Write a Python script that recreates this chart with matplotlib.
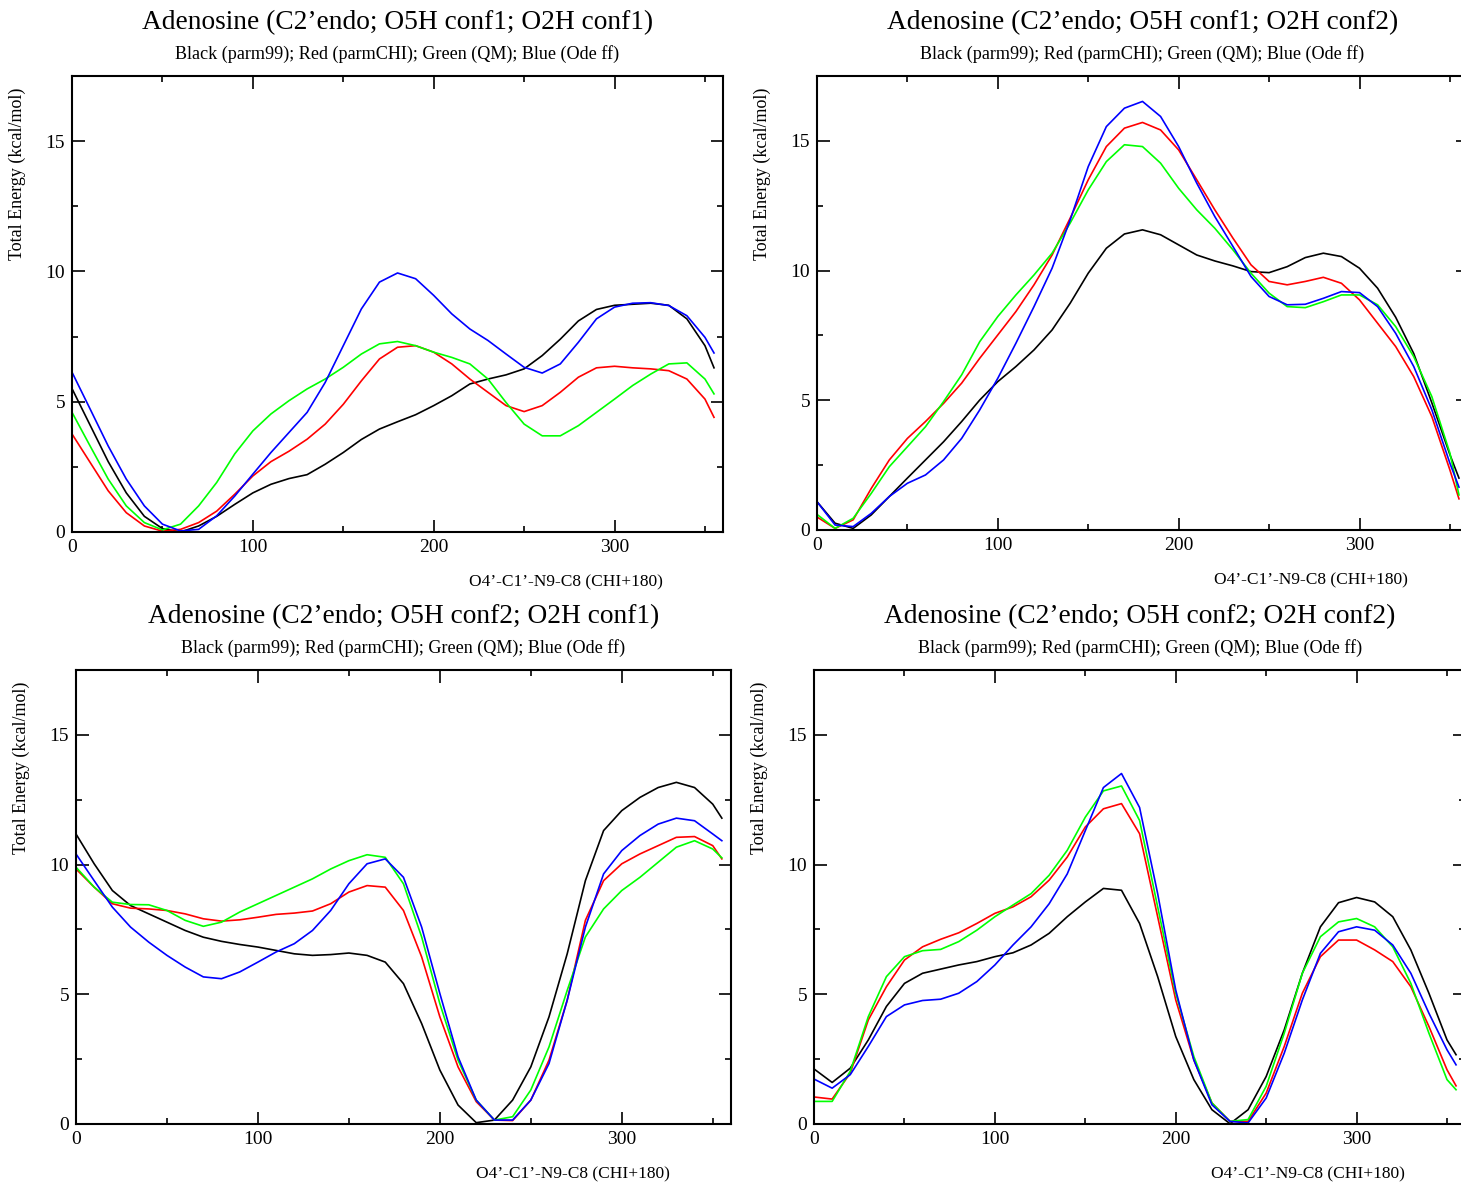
import numpy as np
import matplotlib
matplotlib.use("Agg")
import matplotlib.pyplot as plt
from matplotlib.ticker import MultipleLocator

plt.rcParams['font.family'] = ['Liberation Serif', 'DejaVu Serif']

# dihedral angle O4'-C1'-N9-C8 (degrees)
chi = [0, 10, 20, 30, 40, 50, 60, 70, 80, 90, 100, 110, 120, 130, 140, 150, 160, 170,
       180, 190, 200, 210, 220, 230, 240, 250, 260, 270, 280, 290, 300, 310, 320, 330,
       340, 350, 355]

titles = ["Adenosine (C2\u2019endo; O5H conf1; O2H conf1)",
          "Adenosine (C2\u2019endo; O5H conf1; O2H conf2)",
          "Adenosine (C2\u2019endo; O5H conf2; O2H conf1)",
          "Adenosine (C2\u2019endo; O5H conf2; O2H conf2)"]
subtitle = "Black (parm99); Red (parmCHI); Green (QM); Blue (Ode ff)"

# panel 1: O5H conf1 / O2H conf1
p1_parm99 = [5.5, 4.1, 2.7, 1.5, 0.6, 0.13, 0.0, 0.23, 0.6, 1.06, 1.5, 1.83, 2.05, 2.2, 2.6,
             3.05, 3.55, 3.95, 4.23, 4.5, 4.85, 5.23, 5.68, 5.87, 6.03, 6.26, 6.77, 7.4, 8.1,
             8.54, 8.7, 8.74, 8.78, 8.7, 8.18, 7.15, 6.3]
p1_parmchi = [3.76, 2.67, 1.58, 0.74, 0.23, 0.03, 0.1, 0.36, 0.8, 1.45, 2.15, 2.7, 3.1, 3.56,
              4.14, 4.9, 5.8, 6.64, 7.09, 7.15, 6.9, 6.45, 5.87, 5.36, 4.85, 4.62, 4.85, 5.36,
              5.94, 6.3, 6.36, 6.3, 6.26, 6.19, 5.87, 5.1, 4.4]
p1_qm = [4.59, 3.3, 2.03, 1.0, 0.36, 0.08, 0.3, 1.0, 1.9, 3.0, 3.88, 4.53, 5.04, 5.49, 5.87,
         6.32, 6.83, 7.22, 7.31, 7.15, 6.9, 6.7, 6.45, 5.87, 4.97, 4.14, 3.69, 3.69, 4.08,
         4.59, 5.1, 5.62, 6.06, 6.45, 6.49, 5.87, 5.3]
p1_ode = [6.13, 4.72, 3.3, 2.03, 1.0, 0.3, 0.04, 0.1, 0.62, 1.38, 2.22, 3.05, 3.82, 4.59,
          5.74, 7.15, 8.56, 9.59, 9.94, 9.72, 9.08, 8.37, 7.79, 7.35, 6.83, 6.32, 6.1, 6.45,
          7.28, 8.18, 8.63, 8.78, 8.8, 8.69, 8.3, 7.47, 6.87]

# panel 2: O5H conf1 / O2H conf2
p2_parm99 = [1.09, 0.26, 0.06, 0.58, 1.29, 2.0, 2.7, 3.4, 4.18, 5.01, 5.72, 6.3, 6.94, 7.71,
             8.74, 9.9, 10.86, 11.41, 11.57, 11.38, 10.99, 10.6, 10.37, 10.18, 9.96, 9.92,
             10.15, 10.5, 10.67, 10.54, 10.09, 9.32, 8.2, 6.8, 4.9, 2.9, 2.0]
p2_parmchi = [0.5, 0.06, 0.39, 1.6, 2.7, 3.53, 4.18, 4.88, 5.66, 6.62, 7.52, 8.42, 9.45,
              10.6, 12.02, 13.5, 14.78, 15.49, 15.71, 15.42, 14.65, 13.5, 12.34, 11.25,
              10.22, 9.58, 9.45, 9.58, 9.74, 9.51, 8.87, 7.97, 7.07, 5.91, 4.37, 2.31, 1.2]
p2_qm = [0.6, 0.06, 0.45, 1.41, 2.44, 3.21, 3.98, 4.95, 5.98, 7.26, 8.23, 9.06, 9.83, 10.67,
         11.83, 13.11, 14.2, 14.85, 14.78, 14.14, 13.17, 12.34, 11.63, 10.8, 9.9, 9.13, 8.61,
         8.57, 8.8, 9.06, 9.06, 8.68, 7.84, 6.68, 5.14, 2.96, 1.35]
p2_ode = [1.09, 0.19, 0.13, 0.64, 1.29, 1.8, 2.12, 2.7, 3.53, 4.63, 5.85, 7.2, 8.61, 10.09,
          11.95, 14.01, 15.55, 16.26, 16.52, 15.94, 14.78, 13.37, 12.08, 10.93, 9.77, 9.0,
          8.68, 8.7, 8.93, 9.19, 9.15, 8.61, 7.58, 6.3, 4.63, 2.57, 1.65]

# panel 3: O5H conf2 / O2H conf1
p3_parm99 = [11.18, 10.03, 9.0, 8.42, 8.1, 7.78, 7.46, 7.2, 7.04, 6.92, 6.82, 6.69, 6.56,
             6.5, 6.53, 6.59, 6.5, 6.24, 5.41, 3.87, 2.08, 0.73, 0.05, 0.15, 0.92, 2.2, 4.13,
             6.56, 9.38, 11.31, 12.08, 12.59, 12.97, 13.17, 12.97, 12.33, 11.79]
p3_parmchi = [9.83, 9.13, 8.49, 8.32, 8.29, 8.23, 8.1, 7.91, 7.82, 7.87, 7.97, 8.08, 8.13,
              8.21, 8.49, 8.94, 9.19, 9.13, 8.23, 6.44, 4.13, 2.2, 0.86, 0.15, 0.13, 0.92,
              2.46, 4.77, 7.85, 9.38, 10.03, 10.41, 10.73, 11.05, 11.08, 10.73, 10.22]
p3_qm = [9.9, 9.13, 8.55, 8.46, 8.45, 8.23, 7.85, 7.62, 7.78, 8.17, 8.49, 8.81, 9.13, 9.45,
         9.83, 10.15, 10.38, 10.28, 9.26, 7.21, 4.64, 2.46, 0.92, 0.15, 0.28, 1.31, 2.97,
         5.15, 7.21, 8.29, 9.0, 9.51, 10.09, 10.67, 10.92, 10.6, 10.26]
p3_ode = [10.41, 9.38, 8.36, 7.59, 7.01, 6.5, 6.05, 5.67, 5.6, 5.86, 6.24, 6.63, 6.95, 7.46,
          8.23, 9.26, 10.03, 10.22, 9.51, 7.59, 5.03, 2.59, 0.92, 0.15, 0.15, 0.92, 2.33,
          4.77, 7.59, 9.64, 10.54, 11.12, 11.56, 11.79, 11.69, 11.18, 10.92]

# panel 4: O5H conf2 / O2H conf2
p4_parm99 = [2.12, 1.6, 2.15, 3.24, 4.53, 5.42, 5.81, 5.97, 6.13, 6.26, 6.45, 6.6, 6.9,
             7.35, 7.99, 8.56, 9.08, 9.01, 7.73, 5.68, 3.37, 1.71, 0.55, 0.01, 0.55, 1.83,
             3.63, 5.81, 7.6, 8.53, 8.73, 8.56, 7.99, 6.71, 5.04, 3.24, 2.67]
p4_parmchi = [1.04, 0.96, 1.96, 4.01, 5.29, 6.32, 6.83, 7.12, 7.37, 7.73, 8.12, 8.37, 8.76,
              9.4, 10.29, 11.45, 12.15, 12.35, 11.19, 7.99, 4.78, 2.47, 0.81, 0.1, 0.1, 1.19,
              2.99, 5.04, 6.45, 7.09, 7.09, 6.71, 6.26, 5.29, 3.76, 2.09, 1.47]
p4_qm = [0.87, 0.87, 2.03, 4.14, 5.68, 6.45, 6.68, 6.73, 7.03, 7.47, 7.99, 8.44, 8.88, 9.59,
         10.55, 11.83, 12.84, 13.03, 11.7, 8.37, 5.04, 2.6, 0.81, 0.1, 0.17, 1.45, 3.5, 5.81,
         7.22, 7.79, 7.92, 7.6, 6.83, 5.42, 3.5, 1.71, 1.32]
p4_ode = [1.73, 1.38, 1.9, 2.99, 4.14, 4.59, 4.76, 4.81, 5.04, 5.49, 6.13, 6.9, 7.6, 8.49,
          9.64, 11.31, 12.97, 13.51, 12.2, 8.88, 5.16, 2.47, 0.74, 0.1, 0.04, 1.0, 2.73, 4.78,
          6.58, 7.41, 7.6, 7.47, 6.9, 5.81, 4.27, 2.86, 2.28]

panels = [
    (p1_parm99, p1_parmchi, p1_qm, p1_ode),
    (p2_parm99, p2_parmchi, p2_qm, p2_ode),
    (p3_parm99, p3_parmchi, p3_qm, p3_ode),
    (p4_parm99, p4_parmchi, p4_qm, p4_ode),
]
colors = ['black', '#ff0000', '#00ff00', '#0000ff']

# [left, bottom, width, height] in figure fractions
positions = [
    [0.0493, 0.5507, 0.4456, 0.3851],
    [0.5592, 0.5524, 0.4456, 0.3834],
    [0.0520, 0.0507, 0.4483, 0.3834],
    [0.5572, 0.0507, 0.4456, 0.3834],
]

fig = plt.figure(figsize=(14.61, 11.84), dpi=100)

for i in range(4):
    ax = fig.add_axes(positions[i])
    for k in range(4):
        ax.plot(chi, panels[i][k], color=colors[k], lw=1.2)
    ax.set_xlim(0, 360)
    ax.set_ylim(0, 17.5)
    ax.xaxis.set_major_locator(MultipleLocator(100))
    ax.xaxis.set_minor_locator(MultipleLocator(50))
    ax.yaxis.set_major_locator(MultipleLocator(5))
    ax.yaxis.set_minor_locator(MultipleLocator(2.5))
    ax.tick_params(which='both', direction='in', top=True, right=True, width=1.2,
                   labelsize=14, pad=5)
    ax.tick_params(which='major', length=9)
    ax.tick_params(which='minor', length=4.5)
    for s in ax.spines.values():
        s.set_linewidth(1.5)
    ax.set_ylabel("Total Energy (kcal/mol)", fontsize=13)
    ax.yaxis.set_label_coords(-0.07, 0.785)
    ax.text(0.759, -0.11, "O4\u2019-C1\u2019-N9-C8 (CHI+180)", transform=ax.transAxes,
            ha='center', va='center', fontsize=12.5)
    ax.text(0.5, 1.118, titles[i], transform=ax.transAxes, ha='center', va='center',
            fontsize=19.7)
    ax.text(0.5, 1.048, subtitle, transform=ax.transAxes, ha='center', va='center',
            fontsize=13.1)

fig.savefig("out.png", dpi=100)
